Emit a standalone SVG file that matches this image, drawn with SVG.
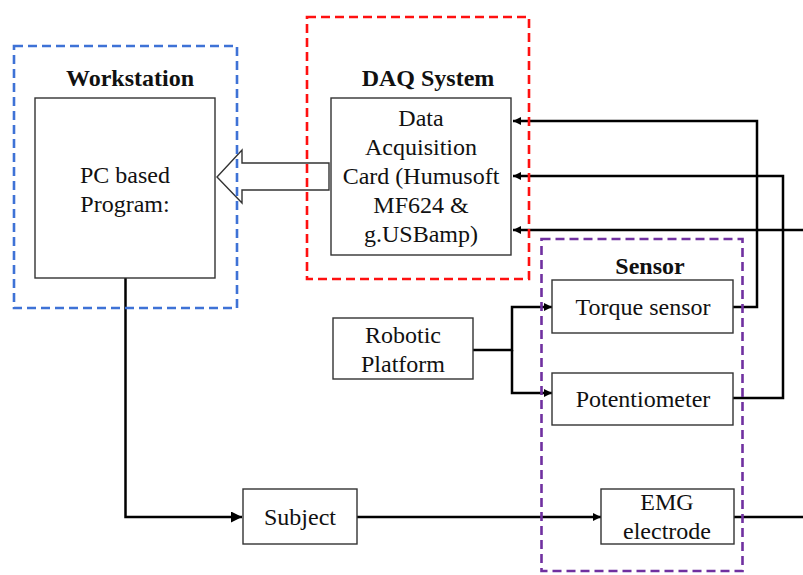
<svg xmlns="http://www.w3.org/2000/svg" width="803" height="575" viewBox="0 0 803 575">
<style>
.box{fill:#fff;stroke:#333;stroke-width:1.4}
.conn{fill:none;stroke:#000;stroke-width:2.5}
.grp{fill:none;stroke-width:2.6;stroke-dasharray:9 5}
</style>
<defs>
<marker id="sm" viewBox="0 0 10 10" refX="10" refY="5" markerWidth="3.2" markerHeight="3.2" markerUnits="strokeWidth" orient="auto">
<path d="M0,0 L10,5 L0,10 z" fill="#000"/>
</marker>
<marker id="lg" viewBox="0 0 10 10" refX="10" refY="5" markerWidth="4.4" markerHeight="4.4" markerUnits="strokeWidth" orient="auto">
<path d="M0,0 L10,5 L0,10 z" fill="#000"/>
</marker>
</defs>

<g id="connectors">
<path class="conn" d="M733,307 H757 V121 H513" marker-end="url(#sm)"/>
<path class="conn" d="M733,398 H783 V176 H513" marker-end="url(#sm)"/>
<path class="conn" d="M803,230 H513" marker-end="url(#sm)"/>
<path class="conn" d="M473,350 H512 V307 H552" marker-end="url(#sm)"/>
<path class="conn" d="M512,350 V393 H552" marker-end="url(#sm)"/>
<path class="conn" d="M125.5,278 V517 H242" marker-end="url(#lg)"/>
<path class="conn" d="M357,517 H601" marker-end="url(#sm)"/>
<path class="conn" d="M734,517 H803"/>
<polygon id="hollow-arrow" points="329,163 242,163 242,150 217,177 242,203 242,190 329,190" fill="#fff" stroke="#333" stroke-width="1.4"/>
</g>

<g font-family="'Liberation Serif', 'Times New Roman', serif" font-size="24" fill="#111" text-anchor="middle">
<g id="pc">
<rect class="box" x="35" y="98" width="180" height="180"/>
<text x="125" y="183">PC based</text>
<text x="125" y="212">Program:</text>
</g>

<g id="daq-card">
<rect class="box" x="331" y="98" width="180" height="157"/>
<text x="421" y="126">Data</text>
<text x="421" y="155">Acquisition</text>
<text x="421" y="184">Card (Humusoft</text>
<text x="421" y="213">MF624 &amp;</text>
<text x="421" y="242">g.USBamp)</text>
</g>

<g id="robotic">
<rect class="box" x="333" y="318" width="140" height="61"/>
<text x="403" y="343">Robotic</text>
<text x="403" y="372">Platform</text>
</g>

<g id="torque">
<rect class="box" x="552" y="280" width="181" height="53"/>
<text x="643" y="315">Torque sensor</text>
</g>

<g id="potentiometer">
<rect class="box" x="552" y="373" width="181" height="52"/>
<text x="643" y="407">Potentiometer</text>
</g>

<g id="subject">
<rect class="box" x="243" y="489" width="114" height="55"/>
<text x="300" y="525">Subject</text>
</g>

<g id="emg">
<rect class="box" x="601" y="489" width="133" height="55"/>
<text x="667" y="510">EMG</text>
<text x="667" y="539">electrode</text>
</g>

<g id="workstation">
<rect class="grp" x="14" y="46" width="223" height="262" stroke="#3E72D6"/>
<text x="130" y="86" font-weight="bold">Workstation</text>
</g>

<g id="daq-system">
<rect class="grp" x="307" y="17" width="222" height="262" stroke="#FF1010"/>
<text x="428" y="86" font-weight="bold">DAQ System</text>
</g>

<g id="sensor">
<rect class="grp" x="541.5" y="239" width="201" height="332" stroke="#7030A0"/>
<text x="650" y="274" font-weight="bold">Sensor</text>
</g>
</g>
</svg>
